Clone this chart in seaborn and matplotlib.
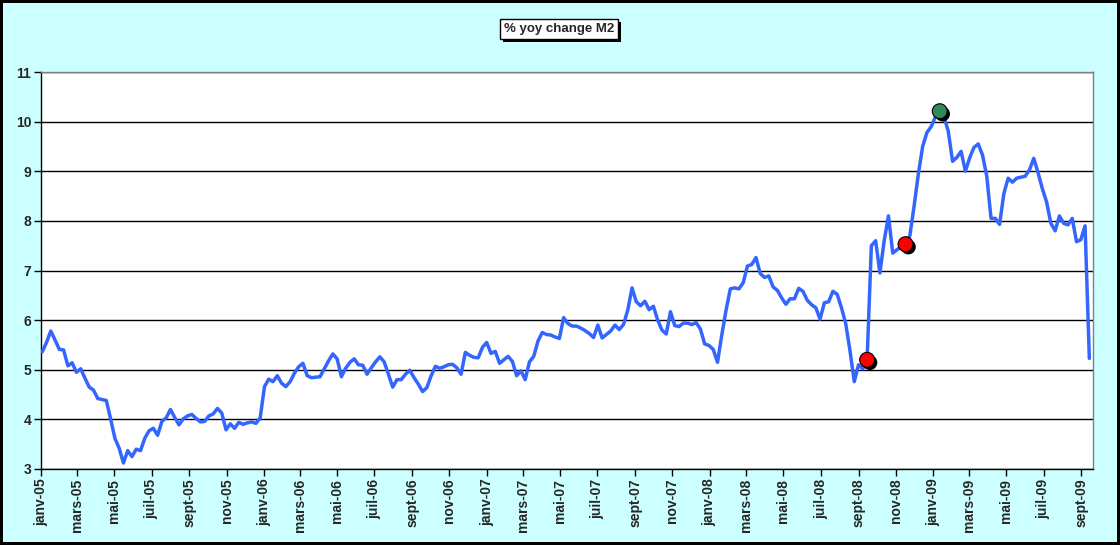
import pandas as pd
import matplotlib
matplotlib.use("Agg")
import matplotlib.pyplot as plt
import matplotlib.patheffects as pe
import seaborn as sns

# weekly M2, % change on a year earlier
weeks = pd.date_range("2005-01-03", periods=246, freq="7D")
m2_yoy = [
    5.36, 5.55, 5.78, 5.60, 5.41, 5.40, 5.08, 5.14, 4.95, 5.02,
    4.83, 4.65, 4.59, 4.42, 4.40, 4.38, 4.01, 3.62, 3.42, 3.12,
    3.37, 3.25, 3.40, 3.37, 3.62, 3.77, 3.82, 3.68, 3.96, 4.03,
    4.20, 4.04, 3.89, 4.01, 4.07, 4.10, 4.02, 3.95, 3.96, 4.07,
    4.11, 4.22, 4.13, 3.79, 3.91, 3.82, 3.94, 3.90, 3.93, 3.95,
    3.92, 4.03, 4.66, 4.81, 4.76, 4.88, 4.73, 4.66, 4.76, 4.93,
    5.06, 5.13, 4.88, 4.84, 4.85, 4.86, 5.02, 5.18, 5.32, 5.22,
    4.86, 5.03, 5.15, 5.22, 5.10, 5.09, 4.91, 5.04, 5.16, 5.26,
    5.16, 4.91, 4.65, 4.80, 4.80, 4.91, 4.99, 4.84, 4.71, 4.56,
    4.64, 4.88, 5.07, 5.03, 5.06, 5.10, 5.11, 5.04, 4.91, 5.35,
    5.29, 5.25, 5.24, 5.45, 5.55, 5.33, 5.37, 5.13, 5.20, 5.27,
    5.17, 4.88, 4.98, 4.80, 5.16, 5.27, 5.58, 5.75, 5.71, 5.70,
    5.66, 5.63, 6.05, 5.93, 5.88, 5.88, 5.84, 5.79, 5.73, 5.65,
    5.90, 5.64, 5.71, 5.78, 5.90, 5.81, 5.91, 6.20, 6.65, 6.37,
    6.29, 6.38, 6.21, 6.28, 6.00, 5.80, 5.72, 6.17, 5.89, 5.87,
    5.94, 5.94, 5.91, 5.95, 5.82, 5.52, 5.49, 5.41, 5.15, 5.70,
    6.20, 6.63, 6.65, 6.63, 6.75, 7.09, 7.12, 7.26, 6.94, 6.86,
    6.89, 6.67, 6.60, 6.45, 6.32, 6.43, 6.43, 6.64, 6.58, 6.40,
    6.31, 6.25, 6.02, 6.35, 6.37, 6.58, 6.52, 6.25, 5.93, 5.38,
    4.76, 5.10, 5.02, 5.20, 7.50, 7.60, 6.95, 7.60, 8.10, 7.35,
    7.42, 7.48, 7.53, 7.70, 8.30, 8.95, 9.50, 9.78, 9.90, 10.10,
    10.21, 10.10, 9.80, 9.20, 9.28, 9.40, 9.00, 9.27, 9.48, 9.55,
    9.33, 8.90, 8.05, 8.05, 7.93, 8.55, 8.86, 8.78, 8.86, 8.88,
    8.90, 9.03, 9.26, 8.97, 8.65, 8.38, 7.95, 7.80, 8.10, 7.95,
    7.92, 8.05, 7.58, 7.62, 7.90, 5.23,
]

# highlighted weeks
red_weeks = ["2008-09-15", "2008-11-17"]
green_weeks = ["2009-01-12"]

tick_dates = pd.date_range("2005-01-01", "2009-09-01", freq="2MS")
tick_labels = [
    "janv-05", "mars-05", "mai-05", "juil-05", "sept-05", "nov-05",
    "janv-06", "mars-06", "mai-06", "juil-06", "sept-06", "nov-06",
    "janv-07", "mars-07", "mai-07", "juil-07", "sept-07", "nov-07",
    "janv-08", "mars-08", "mai-08", "juil-08", "sept-08", "nov-08",
    "janv-09", "mars-09", "mai-09", "juil-09", "sept-09",
]
y_ticks = [3, 4, 5, 6, 7, 8, 9, 10, 11]

df = pd.DataFrame({"week": weeks, "yoy": m2_yoy})
red = df[df.week.isin(pd.to_datetime(red_weeks))]
green = df[df.week.isin(pd.to_datetime(green_weeks))]

sns.set_style("white")
plt.rcParams["font.family"] = ["Liberation Sans", "DejaVu Sans"]

fig = plt.figure(figsize=(11.2, 5.45), dpi=100, facecolor="#CCFFFF",
                 edgecolor="black", linewidth=3)
ax = fig.add_axes([41 / 1120, 1 - 469 / 545, 1052 / 1120, 397 / 545])
ax.set_facecolor("white")

sns.lineplot(data=df, x="week", y="yoy", color="#3366FF", linewidth=2.5, ax=ax, zorder=3)

shadow = [pe.SimplePatchShadow(offset=(2, -2), shadow_rgbFace="black", alpha=1), pe.Normal()]
sns.scatterplot(data=red, x="week", y="yoy", color="#FF0000", s=115,
                edgecolor="black", linewidth=0.8, ax=ax, zorder=5)
ax.collections[-1].set_path_effects(shadow)
sns.scatterplot(data=green, x="week", y="yoy", color="#2E8B57", s=115,
                edgecolor="black", linewidth=0.8, ax=ax, zorder=5)
ax.collections[-1].set_path_effects(shadow)

ax.set_ylim(3, 11)
ax.set_xlim(pd.Timestamp("2005-01-01"), pd.Timestamp("2009-09-20"))
ax.set_yticks(y_ticks)
ax.set_yticklabels([str(v) for v in y_ticks], fontsize=10, fontweight="bold")
ax.set_xticks(tick_dates)
ax.set_xticklabels(tick_labels, rotation=90, fontsize=10, fontweight="bold")
ax.set_xlabel("")
ax.set_ylabel("")

ax.yaxis.grid(True, color="black", linewidth=1)
ax.xaxis.grid(False)
ax.set_axisbelow(True)
ax.tick_params(axis="both", direction="out", length=5, width=1, color="black",
               bottom=True, left=True, pad=2)

for side in ["left", "bottom"]:
    ax.spines[side].set_color("black")
    ax.spines[side].set_linewidth(1)
for side in ["top", "right"]:
    ax.spines[side].set_color("#808080")
    ax.spines[side].set_linewidth(1)

title = fig.text(559 / 1120, 1 - 29 / 545, "% yoy change M2", ha="center", va="center",
                 fontsize=9.5, fontweight="bold",
                 bbox=dict(facecolor="white", edgecolor="black", linewidth=1,
                           boxstyle="square,pad=0.3"))
title.get_bbox_patch().set_path_effects(
    [pe.SimplePatchShadow(offset=(2, -2), shadow_rgbFace="black", alpha=1), pe.Normal()])

fig.savefig("out.png", dpi=100)
